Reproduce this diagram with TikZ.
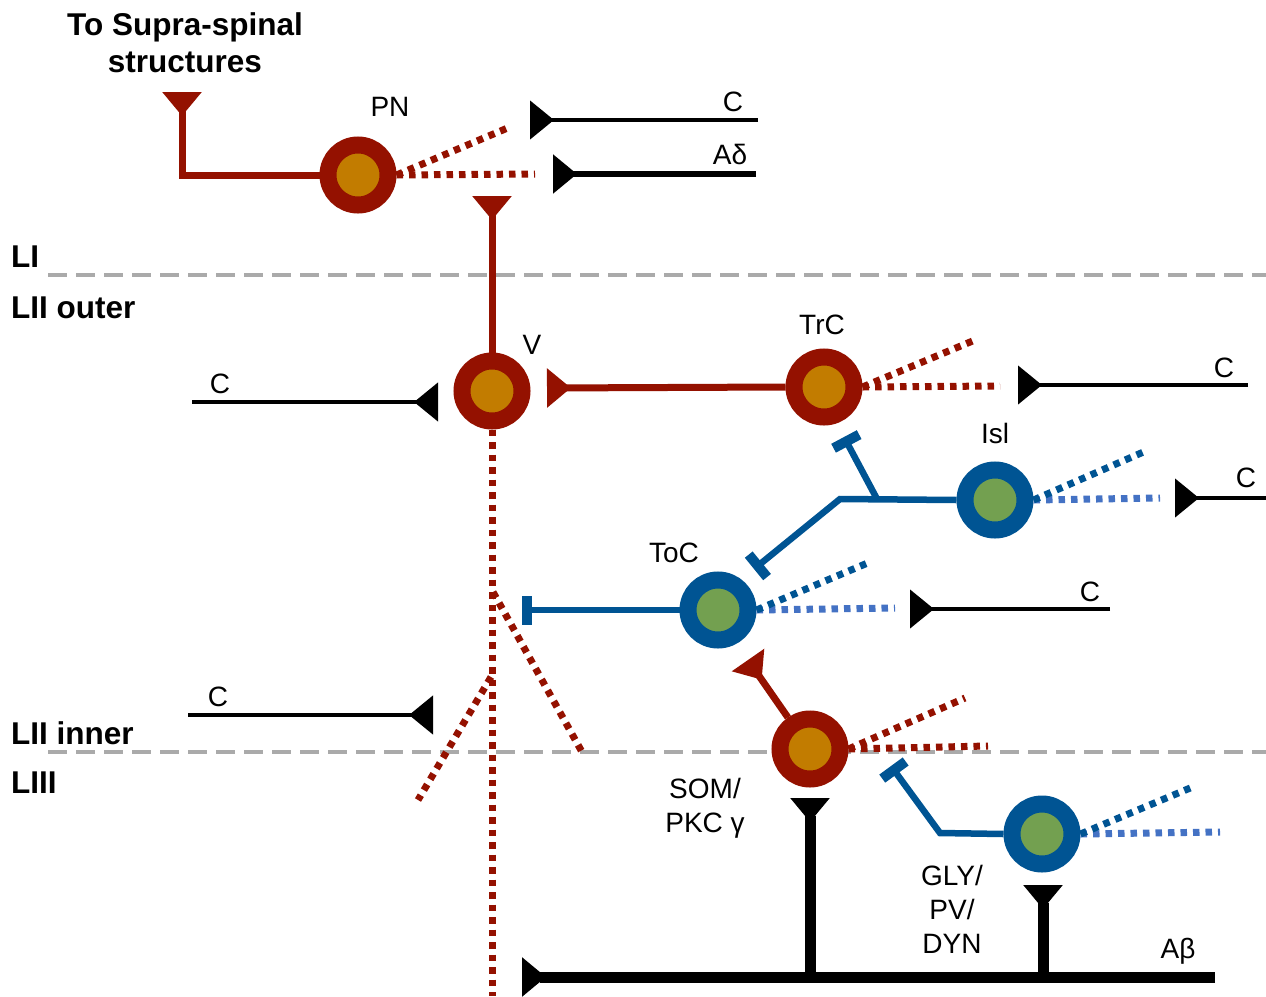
\documentclass[tikz,border=0pt]{standalone}
\usepackage{fontspec}
\setmainfont{Liberation Sans}
\usetikzlibrary{arrows.meta}
\definecolor{nred}{RGB}{148,17,0}
\definecolor{norange}{RGB}{194,124,0}
\definecolor{nblue}{RGB}{0,84,147}
\definecolor{ngreen}{RGB}{115,160,80}
\definecolor{lblue}{RGB}{68,114,196}
\definecolor{lgrey}{RGB}{170,170,170}
\begin{document}
\begin{tikzpicture}[x=1pt,y=-1pt,
  redcell/.style={circle, draw=nred, fill=norange, line width=17pt, minimum size=60pt, inner sep=0pt},
  bluecell/.style={circle, draw=nblue, fill=ngreen, line width=17pt, minimum size=60pt, inner sep=0pt},
  lab/.style={font=\fontsize{28}{34}\selectfont, inner sep=0pt, align=center},
  blab/.style={font=\fontsize{31.5}{37}\selectfont\bfseries, inner sep=0pt, align=center},
  term/.style={-{Triangle[reversed,length=24pt,width=38pt]}},
  tbar/.style={-{Rectangle[length=10pt,width=29pt]}},
  redax/.style={draw=nred, line width=7pt},
  blueax/.style={draw=nblue, line width=6.5pt},
  rdot/.style={draw=nred, line width=7pt, dash pattern=on 6.5pt off 6pt},
  bdot/.style={draw=nblue, line width=7pt, dash pattern=on 6.5pt off 6pt},
  lbdot/.style={draw=lblue, line width=7pt, dash pattern=on 6.5pt off 6pt},
  cfib/.style={draw=black, line width=4.5pt},
  layer/.style={draw=lgrey, line width=3.5pt, dash pattern=on 19pt off 9pt},
]
\useasboundingbox (0,0) rectangle (1266,996);
% layer boundaries
\coordinate (l1a) at (48,275); \coordinate (l1b) at (1266,275);
\coordinate (l2a) at (48,752); \coordinate (l2b) at (1266,752);
\draw[layer] (l1a) -- (l1b);
\draw[layer] (l2a) -- (l2b);
% neurons
\node[redcell] (PN) at (358,175) {};
\node[redcell] (V) at (492,391) {};
\node[redcell] (TrC) at (824,387) {};
\node[bluecell] (Isl) at (995,500) {};
\node[bluecell] (ToC) at (718,610) {};
\node[redcell] (SOM) at (810,749) {};
\node[bluecell] (GLY) at (1042,834) {};
% free ends
\coordinate (pnT) at (182,92);
\coordinate (pnD1) at (535,174);
\coordinate (pnD2) at (510,127);
\coordinate (c1s) at (758,120); \coordinate (c1e) at (530,120);
\coordinate (ads) at (756,174); \coordinate (ade) at (553,174);
\coordinate (vT) at (492,196);
\coordinate (vD) at (492,996);
\coordinate (vB1) at (493,592); \coordinate (vE1) at (582,752);
\coordinate (vB2) at (491,677); \coordinate (vE2) at (418,800);
\coordinate (c2s) at (192,402); \coordinate (c2e) at (438,402);
\coordinate (vtT) at (547,388);
\coordinate (trD1) at (1000,386); \coordinate (trD2) at (975,340);
\coordinate (c3s) at (1248,385); \coordinate (c3e) at (1018,385);
\coordinate (isD1) at (1160,498); \coordinate (isD2) at (1148,450);
\coordinate (c4s) at (1266,498); \coordinate (c4e) at (1175,498);
\coordinate (isJ) at (840,499); \coordinate (isE1) at (754,569);
\coordinate (isB) at (877,499); \coordinate (isE2) at (844,437);
\coordinate (toD1) at (895,608); \coordinate (toD2) at (870,562);
\coordinate (c5s) at (1110,609); \coordinate (c5e) at (910,609);
\coordinate (toE) at (522,610);
\coordinate (c6s) at (188,715); \coordinate (c6e) at (433,715);
\coordinate (soT) at (748,660);
\coordinate (soD1) at (988,746); \coordinate (soD2) at (965,698);
\coordinate (glJ) at (940,833); \coordinate (glE) at (891,766);
\coordinate (glD1) at (1220,832); \coordinate (glD2) at (1195,786);
\coordinate (abs) at (1215,977); \coordinate (abe) at (522,977);
\coordinate (ab1) at (810,977); \coordinate (ab1t) at (810,798);
\coordinate (ab2) at (1043,977); \coordinate (ab2t) at (1043,885);
% PN
\draw[redax,term] (PN.west) -| (pnT);
\draw[rdot] (PN.east) -- (pnD1);
\draw[rdot] (PN.east) -- (pnD2);
\draw[cfib,term] (c1s) -- (c1e);
\draw[cfib,line width=5.5pt,term] (ads) -- (ade);
% V
\draw[redax,term] (V.north) -- (vT);
\draw[rdot] (V.south) -- (vD);
\draw[rdot] (vB1) -- (vE1);
\draw[rdot] (vB2) -- (vE2);
\draw[cfib,term] (c2s) -- (c2e);
% TrC
\draw[redax,term] (TrC.west) -- (vtT);
\draw[rdot] (TrC.east) -- (trD1);
\draw[rdot] (TrC.east) -- (trD2);
\draw[cfib,term] (c3s) -- (c3e);
% Isl
\draw[lbdot] (Isl.east) -- (isD1);
\draw[bdot] (Isl.east) -- (isD2);
\draw[cfib,term] (c4s) -- (c4e);
\draw[blueax,tbar] (Isl.west) -- (isJ) -- (isE1);
\draw[blueax,tbar] (isB) -- (isE2);
% ToC
\draw[lbdot] (ToC.east) -- (toD1);
\draw[bdot] (ToC.east) -- (toD2);
\draw[cfib,term] (c5s) -- (c5e);
\draw[blueax,tbar] (ToC.west) -- (toE);
\draw[cfib,term] (c6s) -- (c6e);
% SOM
\draw[redax,term] (SOM.125) -- (soT);
\draw[rdot] (SOM.east) -- (soD1);
\draw[rdot] (SOM.east) -- (soD2);
% GLY
\draw[blueax,tbar] (GLY.west) -- (glJ) -- (glE);
\draw[lbdot] (GLY.east) -- (glD1);
\draw[bdot] (GLY.east) -- (glD2);
% Abeta
\draw[cfib,line width=11pt,term] (abs) -- (abe);
\draw[cfib,line width=11pt,term] (ab1) -- (ab1t);
\draw[cfib,line width=11pt,term] (ab2) -- (ab2t);
% labels
\node[blab] (title) at (185,43) {To Supra-spinal\\structures};
\node[blab,anchor=west] (lLI) at (11,257) {LI};
\node[blab,anchor=west] (lLIIo) at (11,308) {LII outer};
\node[blab,anchor=west] (lLIIi) at (11,733) {LII inner};
\node[blab,anchor=west] (lLIII) at (11,783) {LIII};
\node[lab] (tPN) at (390,107) {PN};
\node[lab] (tC1) at (733,102) {C};
\node[lab] (tAd) at (730,154) {Aδ};
\node[lab] (tV) at (532,345) {V};
\node[lab] (tC2) at (220,384) {C};
\node[lab] (tTrC) at (822,325) {TrC};
\node[lab] (tC3) at (1224,368) {C};
\node[lab] (tIsl) at (995,433) {Isl};
\node[lab] (tC4) at (1246,478) {C};
\node[lab] (tToC) at (674,553) {ToC};
\node[lab] (tC5) at (1090,592) {C};
\node[lab] (tC6) at (218,697) {C};
\node[lab] (tSOM) at (705,808) {SOM/\\PKC γ};
\node[lab] (tGLY) at (952,909) {GLY/\\PV/\\DYN};
\node[lab] (tAb) at (1178,951) {Aβ};
\end{tikzpicture}
\end{document}
